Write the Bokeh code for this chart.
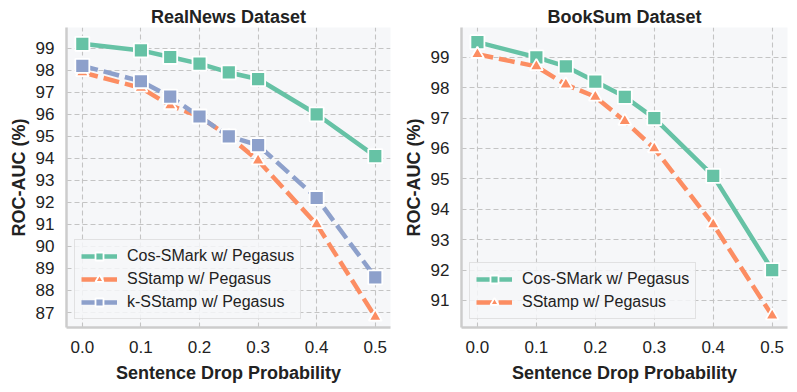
from bokeh.plotting import figure
from bokeh.layouts import row
from bokeh.models import ColumnDataSource, Legend, LegendItem, FixedTicker
from bokeh.embed import file_html
from bokeh.resources import INLINE

# ---- data ----
drop_prob = [0.0, 0.1, 0.15, 0.2, 0.25, 0.3, 0.4, 0.5]

realnews_cos = [99.2, 98.9, 98.6, 98.3, 97.9, 97.6, 96.0, 94.1]
realnews_sstamp = [97.9, 97.2, 96.4, 95.9, 95.0, 93.9, 91.0, 86.8]
realnews_ksstamp = [98.2, 97.5, 96.8, 95.9, 95.0, 94.6, 92.2, 88.6]

booksum_cos = [99.5, 99.0, 98.7, 98.2, 97.7, 97.0, 95.1, 92.0]
booksum_sstamp = [99.1, 98.7, 98.1, 97.7, 96.9, 96.0, 93.5, 90.5]

x_ticks = [0.0, 0.1, 0.2, 0.3, 0.4, 0.5]
realnews_yticks = list(range(87, 100))
booksum_yticks = list(range(91, 100))

titles = ["RealNews Dataset", "BookSum Dataset"]
labels = ["Cos-SMark w/ Pegasus", "SStamp w/ Pegasus", "k-SStamp w/ Pegasus"]

GREEN, ORANGE, BLUE = "#66c2a5", "#fc8d62", "#8da0cb"
FONT = "Liberation Sans"


def make_fig(title, series, yticks, yrange, left_border, right_border, frame_w):
    p = figure(
        output_backend="svg", toolbar_location=None,
        frame_width=frame_w, frame_height=300,
        x_range=(-0.027, 0.526), y_range=yrange,
        min_border_left=left_border, min_border_right=right_border,
        min_border_top=27, min_border_bottom=50,
        background_fill_color="#f6f7f9", border_fill_color="white",
        outline_line_color=None,
    )
    p.title.text = title
    p.title.align = "center"
    p.title.text_font = FONT
    p.title.text_font_size = "18px"
    p.title.text_font_style = "bold"
    p.title.text_color = "#222222"
    p.title.standoff = 2

    for ax in (p.xaxis[0], p.yaxis[0]):
        ax.axis_line_color = "#cccccc"
        ax.axis_line_width = 2.5
        ax.major_tick_line_color = None
        ax.minor_tick_line_color = None
        ax.major_tick_out = 0
        ax.major_tick_in = 0
        ax.minor_tick_out = 0
        ax.minor_tick_in = 0
        ax.major_label_text_font = FONT
        ax.major_label_text_font_size = "17px"
        ax.major_label_text_color = "#222222"
        ax.axis_label_text_font = FONT
        ax.axis_label_text_font_size = "18px"
        ax.axis_label_text_font_style = "bold"
        ax.axis_label_text_color = "#222222"
    p.xaxis.ticker = FixedTicker(ticks=x_ticks)
    p.yaxis.ticker = FixedTicker(ticks=yticks)
    p.xaxis.major_label_overrides = {t: f"{t:.1f}" for t in x_ticks}
    p.xaxis.major_label_standoff = 13
    p.yaxis.major_label_standoff = 12
    p.xaxis.axis_label = "Sentence Drop Probability"
    p.yaxis.axis_label = "ROC-AUC (%)"
    p.xaxis.axis_label_standoff = 7
    p.yaxis.axis_label_standoff = 4

    for g in (p.xgrid[0], p.ygrid[0]):
        g.grid_line_color = "#c4c4c4"
        g.grid_line_dash = "5 3"
        g.grid_line_width = 1.1

    items = []
    for label, vals, color, marker, dash, msize in series:
        src = ColumnDataSource(dict(x=drop_prob, y=vals))
        ln = p.line("x", "y", source=src, line_color=color, line_width=4.5,
                    line_dash=dash)
        sc = p.scatter("x", "y", source=src, marker=marker, size=msize,
                       fill_color=color, line_color="white", line_width=1.8)
        items.append(LegendItem(label=label, renderers=[ln, sc]))

    legend = Legend(items=items, location="bottom_left")
    legend.label_text_font = FONT
    legend.label_text_font_size = "16px"
    legend.label_text_color = "#222222"
    legend.glyph_width = 36
    legend.glyph_height = 20
    legend.label_standoff = 10
    legend.spacing = 3
    legend.padding = 6
    legend.margin = 8
    legend.border_line_color = "#cccccc"
    legend.border_line_width = 1
    legend.background_fill_color = "#f6f7f9"
    legend.background_fill_alpha = 0.85
    p.add_layout(legend)
    return p


left_series = [
    (labels[0], realnews_cos, GREEN, "square", "solid", 14),
    (labels[1], realnews_sstamp, ORANGE, "triangle", "16 6", 13),
    (labels[2], realnews_ksstamp, BLUE, "square", "16 6", 14),
]
right_series = [
    (labels[0], booksum_cos, GREEN, "square", "solid", 14),
    (labels[1], booksum_sstamp, ORANGE, "triangle", "16 6", 13),
]

p1 = make_fig(titles[0], left_series, realnews_yticks, (86.32, 99.94), 66, 10, 324)
p2 = make_fig(titles[1], right_series, booksum_yticks, (90.11, 99.98), 58, 6, 326)

layout = row(p1, p2, spacing=0)
open("out.html", "w").write(file_html(layout, INLINE))
